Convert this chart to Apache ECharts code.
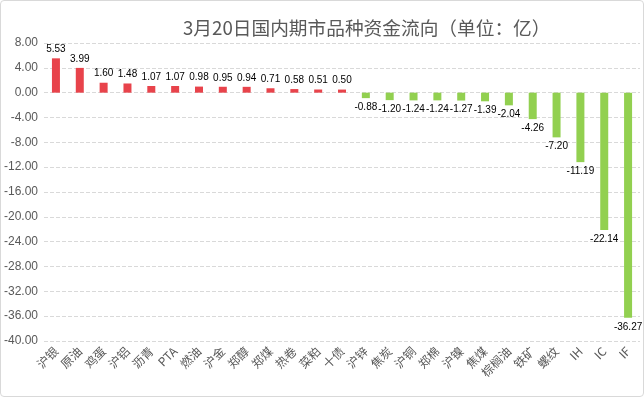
<!DOCTYPE html>
<html>
<head>
<meta charset="utf-8">
<script src="https://cdn.jsdelivr.net/npm/echarts@6/dist/echarts.min.js"></script>
<style>
  html, body { margin: 0; padding: 0; background: #fff; }
  #chart { width: 642px; height: 395px; border: 1px solid #d9d9d9; border-radius: 4px; }
</style>
</head>
<body>
<div id="chart"></div>
<script>
// 品种 / 资金流向 (亿)
const varieties = ['沪银', '原油', '鸡蛋', '沪铝', '沥青', 'PTA', '燃油', '沪金', '郑醇', '郑煤', '热卷', '菜粕', '十债',
    '沪锌', '焦炭', '沪铜', '郑棉', '沪镍', '焦煤', '棕榈油', '铁矿', '螺纹', 'IH', 'IC', 'IF'];
const flows = [5.53, 3.99, 1.60, 1.48, 1.07, 1.07, 0.98, 0.95, 0.94, 0.71, 0.58, 0.51, 0.50,
    -0.88, -1.20, -1.24, -1.24, -1.27, -1.39, -2.04, -4.26, -7.20, -11.19, -22.14, -36.27];

const chart = echarts.init(document.getElementById('chart'));

const option = {
    animation: false,
    title: {
        text: '3月20日国内期市品种资金流向（单位：亿）',
        left: 177,
        top: 13,
        textStyle: { fontSize: 18.7, fontWeight: 'normal', color: '#595959', fontFamily: 'Noto Sans CJK SC' }
    },
    grid: { left: 43, right: 3, top: 42, bottom: 55, containLabel: false },
    xAxis: {
        type: 'category',
        data: varieties,
        axisLine: { show: false, onZero: false },
        axisTick: { show: false },
        axisLabel: { rotate: 45, interval: 0, color: '#595959', fontSize: 12, margin: 8, fontFamily: 'Noto Sans CJK SC' }
    },
    yAxis: {
        type: 'value',
        min: -40,
        max: 8,
        interval: 4,
        axisLine: { show: false },
        axisTick: { show: false },
        axisLabel: { color: '#595959', fontSize: 12, margin: 6, formatter: v => v.toFixed(2) },
        splitLine: { lineStyle: { color: '#d9d9d9', type: 'dashed' } }
    },
    series: [{
        type: 'bar',
        barWidth: 8,
        data: flows.map(v => ({
            value: v,
            itemStyle: { color: v >= 0 ? '#e8434b' : '#92d050' },
            label: { position: v >= 0 ? 'top' : 'bottom' }
        })),
        label: {
            show: true,
            color: '#000',
            fontSize: 10,
            distance: 4,
            formatter: p => p.value.toFixed(2)
        }
    }]
};

chart.setOption(option);
</script>
</body>
</html>
